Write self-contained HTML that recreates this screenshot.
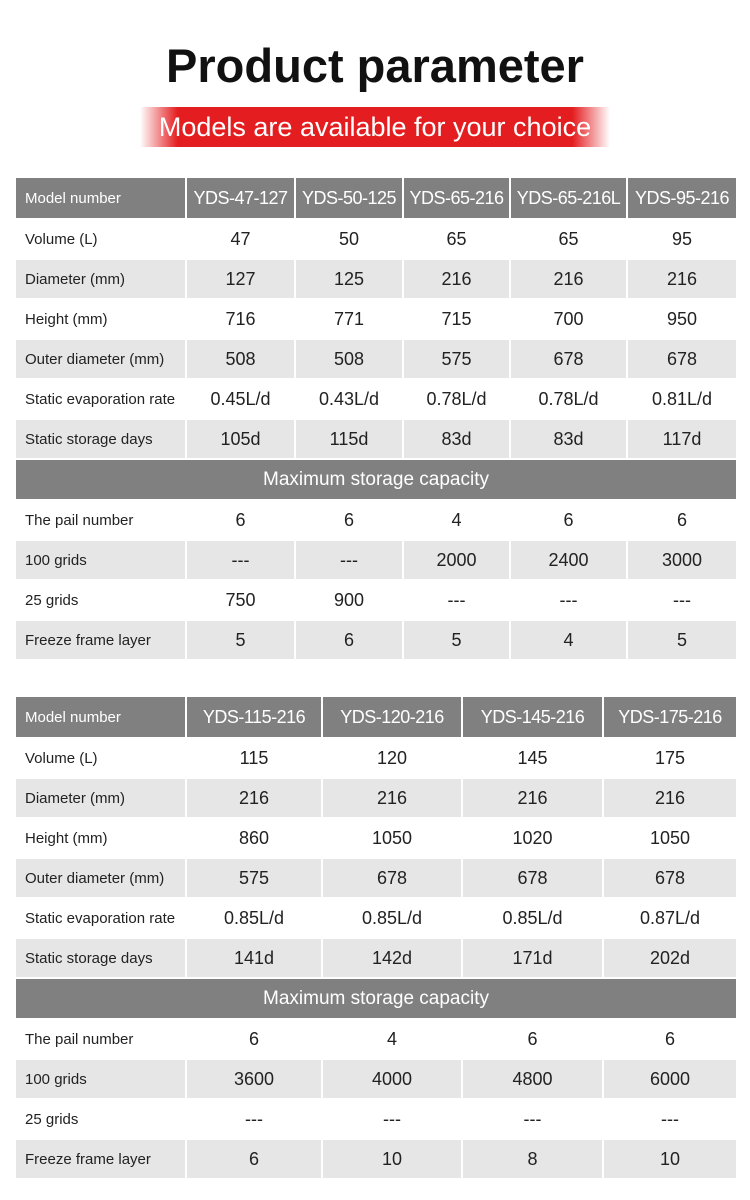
<!DOCTYPE html>
<html><head><meta charset="utf-8"><style>
body{margin:0;width:750px;height:1200px;background:#fff;position:relative;font-family:"Liberation Sans","DejaVu Sans",sans-serif;overflow:hidden}
h1{position:absolute;top:36px;left:0;width:750px;text-align:center;margin:0;font-size:47px;font-weight:bold;color:#111;line-height:60px}
.banner{position:absolute;left:140px;top:107px;width:470px;height:40px;background:linear-gradient(90deg,rgba(228,30,32,0) 0%,#e41e20 8%,#e41e20 92%,rgba(228,30,32,0) 100%);color:#fff;font-size:27px;text-align:center;line-height:40px}
table{position:absolute;left:14px;border-collapse:collapse;table-layout:fixed;width:722px}
td{border:2px solid #fff;padding:0;height:38px;text-align:center;font-size:18px;color:#222;white-space:nowrap;overflow:hidden}
td:first-child{text-align:left;padding-left:9px;font-size:15px}
tr.h td{background:#808080;color:#fff;height:40px}
tr.h td:not(:first-child){font-size:18px;letter-spacing:-0.5px}
tr.g td{background:#e6e6e6}
tr.m td{background:#808080;color:#fff;text-align:center;padding:0;font-size:19px;height:39px}
</style></head><body>
<h1>Product parameter</h1>
<div class="banner">Models are available for your choice</div>
<table style="top:176px">
<colgroup><col style="width:171px"><col style="width:109px"><col style="width:108px"><col style="width:107px"><col style="width:117px"><col style="width:110px"></colgroup>
<tr class="h"><td>Model number</td><td>YDS-47-127</td><td>YDS-50-125</td><td>YDS-65-216</td><td>YDS-65-216L</td><td>YDS-95-216</td></tr>
<tr><td>Volume (L)</td><td>47</td><td>50</td><td>65</td><td>65</td><td>95</td></tr>
<tr class="g"><td>Diameter (mm)</td><td>127</td><td>125</td><td>216</td><td>216</td><td>216</td></tr>
<tr><td>Height (mm)</td><td>716</td><td>771</td><td>715</td><td>700</td><td>950</td></tr>
<tr class="g"><td>Outer diameter (mm)</td><td>508</td><td>508</td><td>575</td><td>678</td><td>678</td></tr>
<tr><td>Static evaporation rate</td><td>0.45L/d</td><td>0.43L/d</td><td>0.78L/d</td><td>0.78L/d</td><td>0.81L/d</td></tr>
<tr class="g"><td>Static storage days</td><td>105d</td><td>115d</td><td>83d</td><td>83d</td><td>117d</td></tr>
<tr class="m"><td colspan="6" style="text-align:center;padding:0">Maximum storage capacity</td></tr>
<tr><td>The pail number</td><td>6</td><td>6</td><td>4</td><td>6</td><td>6</td></tr>
<tr class="g"><td>100 grids</td><td>---</td><td>---</td><td>2000</td><td>2400</td><td>3000</td></tr>
<tr><td>25 grids</td><td>750</td><td>900</td><td>---</td><td>---</td><td>---</td></tr>
<tr class="g"><td>Freeze frame layer</td><td>5</td><td>6</td><td>5</td><td>4</td><td>5</td></tr>
</table>
<table style="top:695px">
<colgroup><col style="width:171px"><col style="width:136px"><col style="width:140px"><col style="width:141px"><col style="width:134px"></colgroup>
<tr class="h"><td>Model number</td><td>YDS-115-216</td><td>YDS-120-216</td><td>YDS-145-216</td><td>YDS-175-216</td></tr>
<tr><td>Volume (L)</td><td>115</td><td>120</td><td>145</td><td>175</td></tr>
<tr class="g"><td>Diameter (mm)</td><td>216</td><td>216</td><td>216</td><td>216</td></tr>
<tr><td>Height (mm)</td><td>860</td><td>1050</td><td>1020</td><td>1050</td></tr>
<tr class="g"><td>Outer diameter (mm)</td><td>575</td><td>678</td><td>678</td><td>678</td></tr>
<tr><td>Static evaporation rate</td><td>0.85L/d</td><td>0.85L/d</td><td>0.85L/d</td><td>0.87L/d</td></tr>
<tr class="g"><td>Static storage days</td><td>141d</td><td>142d</td><td>171d</td><td>202d</td></tr>
<tr class="m"><td colspan="5" style="text-align:center;padding:0">Maximum storage capacity</td></tr>
<tr><td>The pail number</td><td>6</td><td>4</td><td>6</td><td>6</td></tr>
<tr class="g"><td>100 grids</td><td>3600</td><td>4000</td><td>4800</td><td>6000</td></tr>
<tr><td>25 grids</td><td>---</td><td>---</td><td>---</td><td>---</td></tr>
<tr class="g"><td>Freeze frame layer</td><td>6</td><td>10</td><td>8</td><td>10</td></tr>
</table>
</body></html>
